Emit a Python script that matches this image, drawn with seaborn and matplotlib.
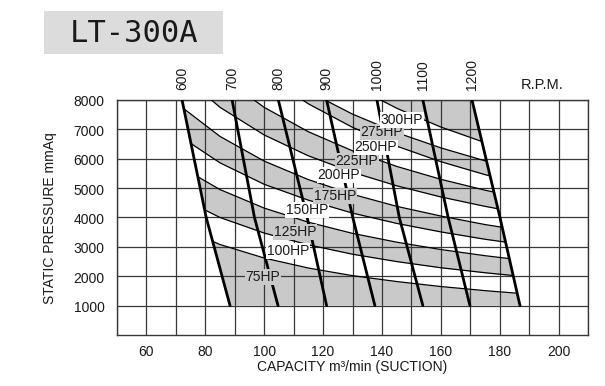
import numpy as np
import matplotlib
matplotlib.use("Agg")
import matplotlib.pyplot as plt
import seaborn as sns
from matplotlib.patches import Polygon, Rectangle

# ---------------- data ----------------
# RPM curves: capacity (m3/min) at static pressures 8000 / 4000 / 1000 mmAq
rpm_pressure = [8000, 4000, 1000]
rpm_names = ["600", "700", "800", "900", "1000", "1100", "1200"]
q_600 = [72.1, 80.3, 88.4]
q_700 = [89.1, 96.7, 104.7]
q_800 = [104.8, 114.6, 121.2]
q_900 = [121.2, 130.1, 137.6]
q_1000 = [138.3, 145.9, 153.9]
q_1100 = [153.9, 162.5, 169.9]
q_1200 = [170.6, 180.1, 186.9]
rpm_curves = [q_600, q_700, q_800, q_900, q_1000, q_1100, q_1200]

# Power curves (band boundaries): static pressure read at these capacities
hp_capacity = [70, 85, 100, 115, 130, 145, 160, 175, 190]
curve_1 = [3730, 3080, 2620, 2280, 2020, 1820, 1650, 1510, 1390]
curve_2 = [4750, 4000, 3470, 3070, 2750, 2500, 2290, 2120, 1970]
curve_3 = [5820, 4950, 4320, 3840, 3460, 3160, 2910, 2700, 2520]
curve_4 = [6860, 5860, 5130, 4590, 4150, 3800, 3510, 3260, 3050]
curve_5 = [7910, 6760, 5920, 5290, 4790, 4380, 4050, 3760, 3520]
curve_6 = [9030, 7750, 6810, 6100, 5540, 5080, 4700, 4380, 4100]
curve_7 = [10350, 8840, 7750, 6920, 6270, 5740, 5300, 4930, 4610]
curve_8 = [12120, 10230, 8880, 7870, 7070, 6430, 5900, 5460, 5080]
curve_9 = [12340, 10560, 9280, 8290, 7520, 6890, 6370, 5930, 5550]
curve_10 = [14660, 12360, 10710, 9470, 8500, 7720, 7080, 6550, 6090]
hp_curves = [curve_1, curve_2, curve_3, curve_4, curve_5,
             curve_6, curve_7, curve_8, curve_9, curve_10]

hp_labels = ["75HP", "100HP", "125HP", "150HP", "175HP", "200HP", "225HP", "250HP", "275HP", "300HP"]
hp_label_q = [99.6, 108.1, 110.5, 114.5, 124.0, 125.4, 131.5, 138.0, 140.0, 146.8]
hp_label_p = [1974, 2860, 3506, 4255, 4732, 5447, 5923, 6400, 6911, 7319]

x_ticks = [60, 80, 100, 120, 140, 160, 180, 200]
y_ticks = [1000, 2000, 3000, 4000, 5000, 6000, 7000, 8000]

# ---------------- style ----------------
GRAY = "#c9c9c9"
GRID = "#383838"
TXT = "#1a1a1a"

sns.set_theme(style="white")
plt.rcParams['font.family'] = ['Liberation Sans', 'DejaVu Sans']

W, H = 605, 386
fig = plt.figure(figsize=(W / 100, H / 100), dpi=100)
ax = fig.add_axes([117 / W, 1 - 335 / H, 471 / W, 235 / H])
ax.set_xlim(50, 210)
ax.set_ylim(0, 8000)

# clip region: between the 600 and 1200 rpm curves
clip_pts = list(zip(q_600, rpm_pressure)) + list(zip(q_1200, rpm_pressure))[::-1]
clip_poly = Polygon(clip_pts, closed=True, transform=ax.transData,
                    facecolor="none", edgecolor="none")
ax.add_patch(clip_poly)

# alternating shaded bands
bounds = [[0] * len(hp_capacity)] + hp_curves + [[30000] * len(hp_capacity)]
for i in range(0, len(bounds) - 1, 2):
    coll = ax.fill_between(hp_capacity, bounds[i], bounds[i + 1],
                           color=GRAY, lw=0, zorder=0.2)
    coll.set_clip_path(clip_poly)

# power curves
for vals in hp_curves:
    sns.lineplot(x=hp_capacity, y=vals, ax=ax, color="black", lw=0.9,
                 sort=False, zorder=3, legend=False)
    ax.lines[-1].set_clip_path(clip_poly)

# rpm curves
for q in rpm_curves:
    sns.lineplot(x=q, y=rpm_pressure, ax=ax, color="black", lw=2.0,
                 sort=False, zorder=4, legend=False)

# HP labels
for i, (lab, q, p) in enumerate(zip(hp_labels, hp_label_q, hp_label_p)):
    fc = GRAY if i % 2 == 0 else "white"
    ax.text(q, p, lab, ha="center", va="center", fontsize=10, color=TXT,
            zorder=6, bbox=dict(boxstyle="square,pad=0.05", fc=fc, ec="none"))

# rpm labels on top
for name, q in zip(rpm_names, rpm_curves):
    ax.annotate(name, xy=(q[0], 8000), xytext=(0, 7), textcoords="offset points",
                rotation=90, ha="center", va="bottom", fontsize=10, color=TXT,
                annotation_clip=False)
fig.text(542 / W, 1 - 85 / H, "R.P.M.", ha="center", va="center",
         fontsize=10.5, color=TXT)

# grid & ticks
ax.set_xticks(x_ticks)
ax.set_xticks(np.arange(50, 211, 10), minor=True)
ax.set_yticks(y_ticks)
ax.set_axisbelow(True)
ax.grid(which="both", color=GRID, lw=0.9)
ax.tick_params(axis="both", which="both", length=0, labelsize=10, labelcolor=TXT)
ax.tick_params(axis="y", pad=9)
ax.tick_params(axis="x", pad=7)
for lbl in ax.get_yticklabels():
    lbl.set_verticalalignment("top")
    lbl.set_y(lbl.get_position()[1])
import matplotlib.transforms as mtransforms
offset = mtransforms.ScaledTranslation(0, -2.5 / 100, fig.dpi_scale_trans)
for lbl in ax.get_yticklabels():
    lbl.set_verticalalignment("center")
    lbl.set_transform(lbl.get_transform() + offset)
for s in ax.spines.values():
    s.set_color(GRID)
    s.set_linewidth(1.0)

fig.text(352 / W, 1 - 367 / H, "CAPACITY m³/min (SUCTION)", ha="center",
         va="center", fontsize=10, color=TXT)
fig.text(50 / W, 1 - 218 / H, "STATIC PRESSURE mmAq", ha="center",
         va="center", rotation=90, fontsize=10, color=TXT)

# title box
fig.patches.append(Rectangle((44 / W, 1 - 54 / H), 179 / W, 43 / H,
                             transform=fig.transFigure, facecolor="#dcdcdc",
                             edgecolor="none"))
fig.text(134 / W, 1 - 33.5 / H, "LT-300A", ha="center", va="center",
         fontsize=22, family="DejaVu Sans Mono", color=TXT)

fig.savefig("out.png", dpi=100)
